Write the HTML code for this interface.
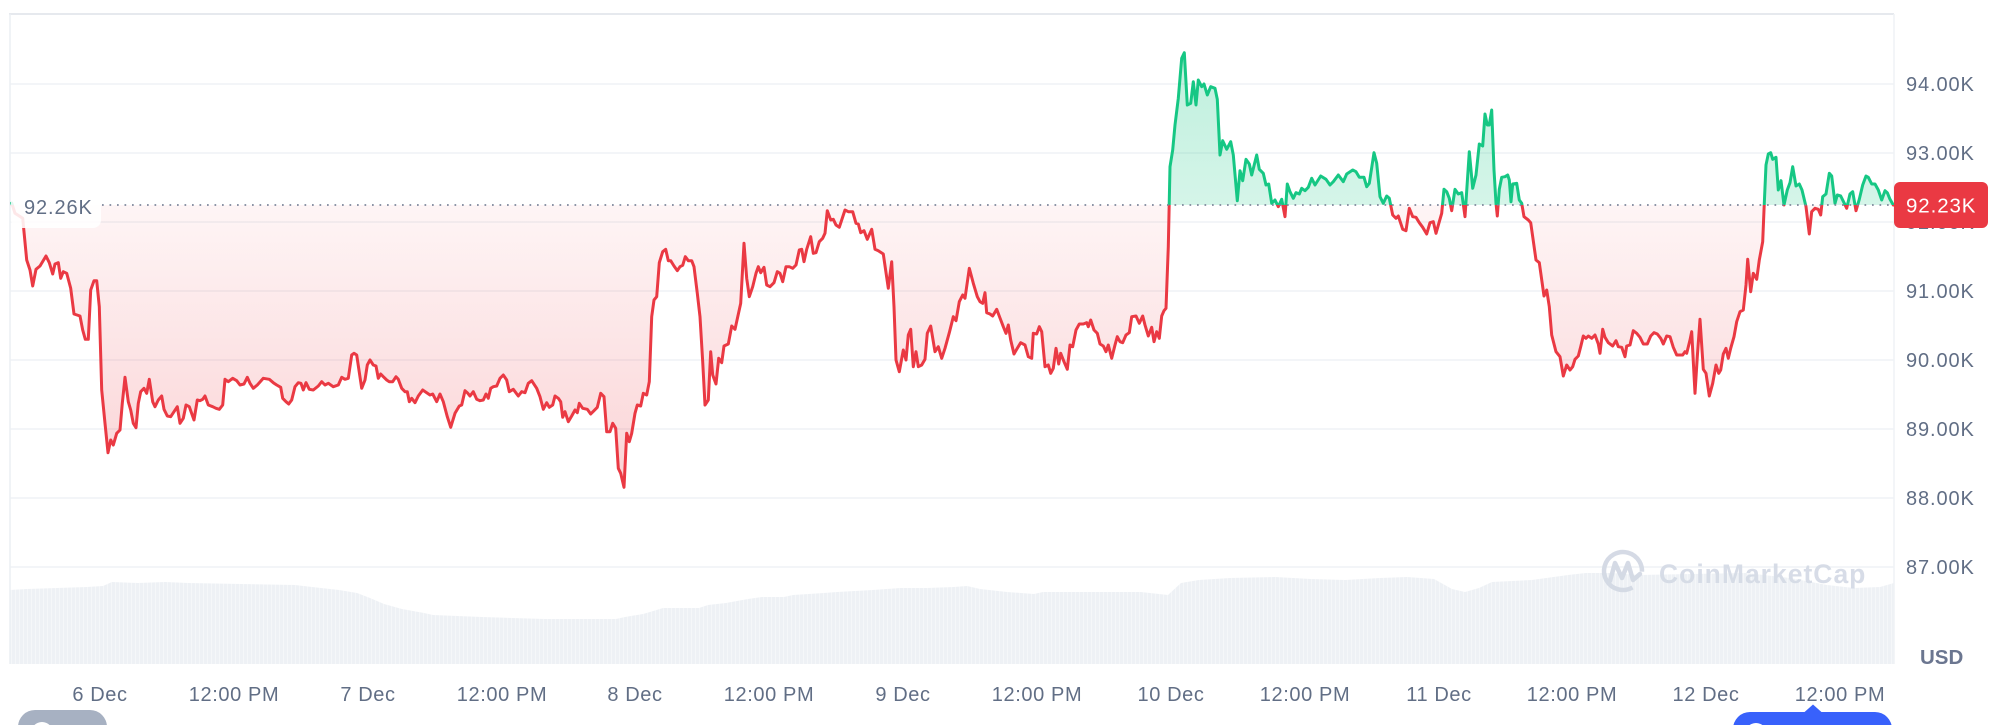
<!DOCTYPE html>
<html>
<head>
<meta charset="utf-8">
<style>
  html,body{margin:0;padding:0;background:#ffffff;}
  body{width:2000px;height:725px;overflow:hidden;}
  svg{display:block;}
  .yl{font-family:"Liberation Sans",sans-serif;font-size:20px;fill:#616e85;letter-spacing:0.9px;}
  .xl{font-family:"Liberation Sans",sans-serif;font-size:20px;fill:#616e85;letter-spacing:0.6px;}
</style>
</head>
<body>
<svg width="2000" height="725" viewBox="0 0 2000 725" xmlns="http://www.w3.org/2000/svg">
  <defs>
    <linearGradient id="gRed" gradientUnits="userSpaceOnUse" x1="0" y1="205" x2="0" y2="490">
      <stop offset="0" stop-color="#ea3943" stop-opacity="0.05"/>
      <stop offset="1" stop-color="#ea3943" stop-opacity="0.22"/>
    </linearGradient>
    <linearGradient id="gGreen" gradientUnits="userSpaceOnUse" x1="0" y1="50" x2="0" y2="205">
      <stop offset="0" stop-color="#16c784" stop-opacity="0.28"/>
      <stop offset="1" stop-color="#16c784" stop-opacity="0.18"/>
    </linearGradient>
    <clipPath id="above"><rect x="0" y="0" width="1894" height="205"/></clipPath>
    <clipPath id="below"><rect x="0" y="205" width="1894" height="520"/></clipPath>
    <pattern id="vstripe" width="4" height="10" patternUnits="userSpaceOnUse">
      <rect x="0" y="0" width="4" height="10" fill="#eef1f5"/>
      <rect x="3" y="0" width="1" height="10" fill="#f5f7f9"/>
    </pattern>
    <path id="ln" d="M11.7,203 L15,213.3 L22.7,218.3 L26.7,260 L30,270 L32.7,286 L36,269.3 L40,266 L46,256 L49.3,262.7 L52.7,274 L55,264 L58.3,262.7 L60.7,278.3 L63.3,271.7 L66.7,273.3 L70.7,288.3 L74,314 L80,316 L82.7,330 L85.3,339.3 L88.3,339.3 L90.7,290 L94,280.7 L96.7,280.7 L99.3,306.7 L101.7,390 L105,423.3 L108,452.7 L110.7,440 L113.3,445 L116.7,433.3 L120,430 L122.3,403.3 L125,377.3 L128.3,401.7 L130.7,410 L133.3,423.3 L136,427.7 L138.3,403.3 L140.7,391.7 L144,388.3 L146.7,393.3 L149.3,379.3 L152.7,401.7 L155,406.7 L158.3,400 L161.7,396 L164,409.3 L167.3,416 L170.7,416.7 L174,411.7 L177.3,406.7 L180,423.3 L183.3,418.3 L186,405 L189.3,406.7 L194,420 L197.3,400 L200,400.7 L202.7,399.3 L205,396 L208.3,405 L212.7,406.7 L216,408.3 L219.3,409.3 L222.7,405 L225,379.3 L228.3,381.7 L232.7,378.3 L236.7,380.7 L240,385 L244,384 L247.3,377.3 L250,383.3 L253.3,388.3 L257.3,385 L263.3,378.3 L269.3,379.3 L273.3,382.7 L276.7,385 L280.7,387.3 L282.7,398.3 L286,401.7 L288.7,404 L291.7,400 L295,386.7 L298.3,382.7 L301,383.3 L303.3,390 L306,382.7 L309.3,389.3 L313.3,390 L318.3,386 L321.7,381.7 L325,385 L328.3,383.3 L333.3,386.7 L338.3,385 L341.7,377.3 L345,379.3 L348.3,378.3 L351.7,355 L354,353.3 L356.7,355 L361.7,388.3 L365,380 L367.3,365 L370,360 L373.3,365 L376,366 L378.3,378.3 L380.7,374 L383.3,376.7 L386.7,380 L389.3,381.7 L392.7,381.7 L396,376.7 L398.3,379.3 L401.7,388.3 L405,391.7 L407.3,391.7 L409.3,401.7 L411.7,398.3 L415,402.7 L418.3,396 L422.7,390 L426.7,392.7 L430,395 L432.7,394 L436.7,401.7 L440,394 L443.3,401.7 L447.3,416.7 L450.7,427.3 L455,413.3 L459.3,406 L461.7,405 L465,390.7 L467.3,392.7 L470,396 L473.3,391.7 L476.7,399.3 L480,400.7 L483.3,400 L486,394 L488.3,398.3 L490.7,388.3 L493.3,386.7 L496.7,386 L500,378.3 L503.3,375 L506.7,380 L509.3,391.7 L513.3,389.3 L518.3,396 L521.7,391.7 L525,392.7 L528.3,383.3 L531.7,380.7 L536.7,388.3 L540,396.7 L543.3,409.3 L546.7,402.7 L549.3,407.3 L552.7,405 L555,396 L558.3,398.3 L560.7,401.7 L562.7,417.3 L565,411.7 L568.3,421.7 L571.7,416 L575,410 L577.3,412.7 L579.3,403.3 L582.7,408.3 L587.3,409.3 L590.7,414 L594,410.7 L597.3,407.3 L600.7,393.3 L604,396.7 L606.7,431.7 L610,431.7 L612.7,423.3 L615.7,428.3 L618.3,468.3 L620.7,473.3 L624,487.3 L626.7,433.3 L629.3,441.7 L631.7,433.3 L635,413.3 L637.3,405 L640.7,406 L643.3,393.3 L646.7,395 L649.3,381.7 L651.7,316.7 L654,300 L656.7,296.7 L659.3,262.7 L662.7,251.7 L665.7,249.3 L668.3,260.7 L670.7,260.7 L674,266 L677.3,270.7 L680,266.7 L682.7,265.3 L685.3,256.7 L688.3,260.7 L691.7,260.7 L694,266.7 L697.3,293.3 L700,316.7 L702.7,361.7 L705,405 L708.3,400 L710.7,351.7 L712.7,375 L716,384 L718.7,358.3 L721.7,362.7 L724,346 L728.3,344 L731.7,326 L735,329.3 L740.7,303.3 L744,243.3 L746.7,278.3 L749.3,296.7 L752.7,286.7 L756,273.3 L758.3,266.7 L760.7,272.7 L764,267.3 L766.7,285 L770,286.7 L774,282.7 L777.3,271.7 L780,273.3 L782.7,281.7 L786,266.7 L789.3,266.7 L792.7,268.3 L796,265 L799.3,250 L801.7,249.3 L804,261.7 L806.7,249.3 L810.7,236.7 L813.3,253.3 L816,252.7 L819.3,241.7 L822.7,238.3 L825,233.3 L827.3,210.7 L830.7,220 L833.3,219.3 L836,225 L839.3,227.3 L841.7,220 L845,210 L848.3,211.7 L852.7,211.7 L856,223.3 L858.3,224 L860.7,232.7 L864,230.7 L867.3,239.3 L871.7,229.3 L875,249.3 L878.3,250.7 L883.3,254 L888.3,288.3 L891.7,261.7 L894,306.7 L896,360 L899.3,371.7 L903.3,350 L906,360 L908.3,335 L910.7,329.3 L913.3,366.7 L916,351.7 L918.3,366.7 L921.7,365 L925,359.3 L927.3,333.3 L930.7,326 L935,351.7 L938.3,346.7 L941.7,358.3 L945,348.3 L949.3,332.7 L953.3,316.7 L956,320.7 L959.3,301.7 L962.7,295 L965,298.3 L969.3,268.3 L973.3,283.3 L977.3,296.7 L980,301.7 L982.7,303.3 L985,292.7 L986.7,312.7 L990,314 L992.7,316 L996.7,309.3 L1000,318 L1003.3,326.7 L1006,333.3 L1008.3,325 L1010.7,340 L1014,354 L1017.3,348.3 L1020.7,342.7 L1025,345 L1028.3,356.7 L1031.7,358.3 L1033.3,333.3 L1036.7,334 L1039.3,326.7 L1041.7,331.7 L1045,366.7 L1048.3,365 L1050.7,373.3 L1053.3,368.3 L1056,348.3 L1058.7,364 L1060.7,353.3 L1064,361.7 L1067.3,369.3 L1070,345 L1072.7,346.7 L1076,330 L1079.3,324 L1083.3,324 L1086.7,322.7 L1088.3,326.7 L1090.7,320 L1094,330 L1097.3,333.3 L1100,344 L1103.3,346 L1106,351.7 L1108.3,345 L1111.7,358.3 L1115,345 L1117.3,336.7 L1120,341.7 L1122.7,342.7 L1126,335 L1129.3,332.7 L1131.7,316.7 L1136,316 L1139.3,323.3 L1142.7,316 L1145,325 L1148.3,336 L1151.7,327.3 L1154,341.7 L1156.7,331.7 L1159.3,338.3 L1161.7,316 L1164,310.7 L1166,308.3 L1168.3,246.7 L1170,166.7 L1172.7,150 L1175,125 L1178.3,98.3 L1181.7,58.3 L1184.3,52.7 L1187.3,105 L1190.7,103.3 L1193.3,81.7 L1196,105 L1198.3,80 L1201.7,86.7 L1204,84 L1207.3,95 L1210.7,86.7 L1215,88.3 L1217.3,99.3 L1220,155 L1222.7,140.7 L1226.7,149.3 L1230.7,141.7 L1233.3,155 L1237.3,200.7 L1240,170.7 L1242.7,180.7 L1246,159.3 L1249.3,164 L1251.7,175 L1256.7,155 L1259.3,169.3 L1263.3,173.3 L1266,185 L1268.7,184 L1271.7,203.3 L1275,200 L1278.3,206.7 L1281.7,199.3 L1285,216.7 L1287.3,184 L1290,191.7 L1293.3,198.3 L1296,192.7 L1299.3,194 L1301.7,188.3 L1305,190.7 L1308.3,187.3 L1311.7,178.3 L1315,185 L1320.7,176 L1326,179.3 L1330,185 L1333.3,181.7 L1338.3,175 L1343.3,181.7 L1346.7,174 L1352.7,170 L1356,171.7 L1359.3,177.3 L1364,177.3 L1366.7,186.7 L1369.3,183.3 L1374,152.7 L1376.7,163.3 L1380,196.7 L1383.3,203.3 L1386.7,196 L1389.3,198.3 L1392.7,215 L1396,218.3 L1398.3,216 L1402.7,229.3 L1406,230.7 L1409.3,208.3 L1412.7,216.7 L1416,217.3 L1419.3,222.7 L1422.7,227.3 L1426.7,234 L1430,222.7 L1433.3,221.7 L1436,233.3 L1439.3,221.7 L1441.7,213.3 L1444,189.3 L1446.7,191.7 L1449.3,198.3 L1451.7,210.7 L1455,189.3 L1458.3,194 L1461.7,192.7 L1465,216.7 L1469.3,151.7 L1472.7,188.3 L1476,175 L1479.3,144 L1482.7,146 L1485,114 L1487.3,125 L1489.3,125 L1491.7,110 L1494,170 L1496,203.3 L1497.3,216 L1499.3,189.3 L1501.7,177.3 L1505,176.7 L1507.7,175 L1509.3,180 L1511,201.7 L1512.7,184 L1516.7,183.3 L1519.3,200 L1521.7,203.3 L1524,216.7 L1528.3,220 L1530.7,222.7 L1532.7,236.7 L1536,260 L1539.3,262.7 L1544,296 L1546.7,290 L1549.3,306.7 L1551.7,335 L1556,351.7 L1560,356.7 L1563.3,376 L1566.7,365 L1570,370 L1572.7,366.7 L1575,359.3 L1578.3,356 L1580.7,346.7 L1583.3,336 L1586,338.3 L1588.3,336 L1591.7,338.3 L1595,335 L1598.3,344 L1600,353.3 L1602.7,329.3 L1605,337.3 L1608.3,342.7 L1612.7,346 L1616,340.7 L1618.3,346.7 L1621.7,347.3 L1625,356.7 L1626.7,346 L1630,345 L1633.3,330.7 L1636.7,333.3 L1640,337.3 L1643.3,344 L1647.3,344 L1650.7,336 L1654,332.7 L1657.3,334 L1660.7,338.3 L1663.3,344 L1666.7,336 L1670,336.7 L1673.3,347.3 L1676.7,355 L1680,355 L1682.7,355 L1685,351.7 L1686.7,353.3 L1690,340 L1691.7,331.7 L1695,393.3 L1697.3,356.7 L1700,319.3 L1703.3,369.3 L1706,373.3 L1709.3,396 L1712.7,383.3 L1716,365 L1718.7,373.3 L1720.7,370 L1723.3,354 L1726,348.3 L1728.3,358.3 L1730.7,348.3 L1734,336.7 L1736.7,321.7 L1740,311.7 L1743.3,310 L1746,285 L1747.7,259.3 L1750.7,291.7 L1753.3,273.3 L1756.7,279.3 L1759.3,260 L1762.7,241.7 L1764,210 L1766,165 L1768.3,154 L1770.7,152.7 L1772.7,159.3 L1776,157.3 L1778.3,190 L1781,180.7 L1784,205 L1787.3,190 L1790,182.7 L1792.7,166.7 L1796,186 L1799.3,184 L1802,190 L1806,206.7 L1809.3,234 L1811.7,211.7 L1815,208.3 L1818.3,209.3 L1820.7,215 L1822.7,196.7 L1826,194 L1829.3,173.3 L1831.7,176 L1835,203.3 L1837.3,195 L1840.7,196 L1844,202.7 L1846.7,208.3 L1850,194 L1852.7,191.7 L1856,210.7 L1859.3,199.3 L1862.7,185 L1866,176 L1868.3,177.3 L1871.7,184 L1875,184 L1878.3,190 L1881.7,200 L1885,190.7 L1887.3,192.7 L1890,199.3 L1893.3,205"/>
    <path id="area" d="M11.7,205 L15,213.3 L22.7,218.3 L26.7,260 L30,270 L32.7,286 L36,269.3 L40,266 L46,256 L49.3,262.7 L52.7,274 L55,264 L58.3,262.7 L60.7,278.3 L63.3,271.7 L66.7,273.3 L70.7,288.3 L74,314 L80,316 L82.7,330 L85.3,339.3 L88.3,339.3 L90.7,290 L94,280.7 L96.7,280.7 L99.3,306.7 L101.7,390 L105,423.3 L108,452.7 L110.7,440 L113.3,445 L116.7,433.3 L120,430 L122.3,403.3 L125,377.3 L128.3,401.7 L130.7,410 L133.3,423.3 L136,427.7 L138.3,403.3 L140.7,391.7 L144,388.3 L146.7,393.3 L149.3,379.3 L152.7,401.7 L155,406.7 L158.3,400 L161.7,396 L164,409.3 L167.3,416 L170.7,416.7 L174,411.7 L177.3,406.7 L180,423.3 L183.3,418.3 L186,405 L189.3,406.7 L194,420 L197.3,400 L200,400.7 L202.7,399.3 L205,396 L208.3,405 L212.7,406.7 L216,408.3 L219.3,409.3 L222.7,405 L225,379.3 L228.3,381.7 L232.7,378.3 L236.7,380.7 L240,385 L244,384 L247.3,377.3 L250,383.3 L253.3,388.3 L257.3,385 L263.3,378.3 L269.3,379.3 L273.3,382.7 L276.7,385 L280.7,387.3 L282.7,398.3 L286,401.7 L288.7,404 L291.7,400 L295,386.7 L298.3,382.7 L301,383.3 L303.3,390 L306,382.7 L309.3,389.3 L313.3,390 L318.3,386 L321.7,381.7 L325,385 L328.3,383.3 L333.3,386.7 L338.3,385 L341.7,377.3 L345,379.3 L348.3,378.3 L351.7,355 L354,353.3 L356.7,355 L361.7,388.3 L365,380 L367.3,365 L370,360 L373.3,365 L376,366 L378.3,378.3 L380.7,374 L383.3,376.7 L386.7,380 L389.3,381.7 L392.7,381.7 L396,376.7 L398.3,379.3 L401.7,388.3 L405,391.7 L407.3,391.7 L409.3,401.7 L411.7,398.3 L415,402.7 L418.3,396 L422.7,390 L426.7,392.7 L430,395 L432.7,394 L436.7,401.7 L440,394 L443.3,401.7 L447.3,416.7 L450.7,427.3 L455,413.3 L459.3,406 L461.7,405 L465,390.7 L467.3,392.7 L470,396 L473.3,391.7 L476.7,399.3 L480,400.7 L483.3,400 L486,394 L488.3,398.3 L490.7,388.3 L493.3,386.7 L496.7,386 L500,378.3 L503.3,375 L506.7,380 L509.3,391.7 L513.3,389.3 L518.3,396 L521.7,391.7 L525,392.7 L528.3,383.3 L531.7,380.7 L536.7,388.3 L540,396.7 L543.3,409.3 L546.7,402.7 L549.3,407.3 L552.7,405 L555,396 L558.3,398.3 L560.7,401.7 L562.7,417.3 L565,411.7 L568.3,421.7 L571.7,416 L575,410 L577.3,412.7 L579.3,403.3 L582.7,408.3 L587.3,409.3 L590.7,414 L594,410.7 L597.3,407.3 L600.7,393.3 L604,396.7 L606.7,431.7 L610,431.7 L612.7,423.3 L615.7,428.3 L618.3,468.3 L620.7,473.3 L624,487.3 L626.7,433.3 L629.3,441.7 L631.7,433.3 L635,413.3 L637.3,405 L640.7,406 L643.3,393.3 L646.7,395 L649.3,381.7 L651.7,316.7 L654,300 L656.7,296.7 L659.3,262.7 L662.7,251.7 L665.7,249.3 L668.3,260.7 L670.7,260.7 L674,266 L677.3,270.7 L680,266.7 L682.7,265.3 L685.3,256.7 L688.3,260.7 L691.7,260.7 L694,266.7 L697.3,293.3 L700,316.7 L702.7,361.7 L705,405 L708.3,400 L710.7,351.7 L712.7,375 L716,384 L718.7,358.3 L721.7,362.7 L724,346 L728.3,344 L731.7,326 L735,329.3 L740.7,303.3 L744,243.3 L746.7,278.3 L749.3,296.7 L752.7,286.7 L756,273.3 L758.3,266.7 L760.7,272.7 L764,267.3 L766.7,285 L770,286.7 L774,282.7 L777.3,271.7 L780,273.3 L782.7,281.7 L786,266.7 L789.3,266.7 L792.7,268.3 L796,265 L799.3,250 L801.7,249.3 L804,261.7 L806.7,249.3 L810.7,236.7 L813.3,253.3 L816,252.7 L819.3,241.7 L822.7,238.3 L825,233.3 L827.3,210.7 L830.7,220 L833.3,219.3 L836,225 L839.3,227.3 L841.7,220 L845,210 L848.3,211.7 L852.7,211.7 L856,223.3 L858.3,224 L860.7,232.7 L864,230.7 L867.3,239.3 L871.7,229.3 L875,249.3 L878.3,250.7 L883.3,254 L888.3,288.3 L891.7,261.7 L894,306.7 L896,360 L899.3,371.7 L903.3,350 L906,360 L908.3,335 L910.7,329.3 L913.3,366.7 L916,351.7 L918.3,366.7 L921.7,365 L925,359.3 L927.3,333.3 L930.7,326 L935,351.7 L938.3,346.7 L941.7,358.3 L945,348.3 L949.3,332.7 L953.3,316.7 L956,320.7 L959.3,301.7 L962.7,295 L965,298.3 L969.3,268.3 L973.3,283.3 L977.3,296.7 L980,301.7 L982.7,303.3 L985,292.7 L986.7,312.7 L990,314 L992.7,316 L996.7,309.3 L1000,318 L1003.3,326.7 L1006,333.3 L1008.3,325 L1010.7,340 L1014,354 L1017.3,348.3 L1020.7,342.7 L1025,345 L1028.3,356.7 L1031.7,358.3 L1033.3,333.3 L1036.7,334 L1039.3,326.7 L1041.7,331.7 L1045,366.7 L1048.3,365 L1050.7,373.3 L1053.3,368.3 L1056,348.3 L1058.7,364 L1060.7,353.3 L1064,361.7 L1067.3,369.3 L1070,345 L1072.7,346.7 L1076,330 L1079.3,324 L1083.3,324 L1086.7,322.7 L1088.3,326.7 L1090.7,320 L1094,330 L1097.3,333.3 L1100,344 L1103.3,346 L1106,351.7 L1108.3,345 L1111.7,358.3 L1115,345 L1117.3,336.7 L1120,341.7 L1122.7,342.7 L1126,335 L1129.3,332.7 L1131.7,316.7 L1136,316 L1139.3,323.3 L1142.7,316 L1145,325 L1148.3,336 L1151.7,327.3 L1154,341.7 L1156.7,331.7 L1159.3,338.3 L1161.7,316 L1164,310.7 L1166,308.3 L1168.3,246.7 L1170,166.7 L1172.7,150 L1175,125 L1178.3,98.3 L1181.7,58.3 L1184.3,52.7 L1187.3,105 L1190.7,103.3 L1193.3,81.7 L1196,105 L1198.3,80 L1201.7,86.7 L1204,84 L1207.3,95 L1210.7,86.7 L1215,88.3 L1217.3,99.3 L1220,155 L1222.7,140.7 L1226.7,149.3 L1230.7,141.7 L1233.3,155 L1237.3,200.7 L1240,170.7 L1242.7,180.7 L1246,159.3 L1249.3,164 L1251.7,175 L1256.7,155 L1259.3,169.3 L1263.3,173.3 L1266,185 L1268.7,184 L1271.7,203.3 L1275,200 L1278.3,206.7 L1281.7,199.3 L1285,216.7 L1287.3,184 L1290,191.7 L1293.3,198.3 L1296,192.7 L1299.3,194 L1301.7,188.3 L1305,190.7 L1308.3,187.3 L1311.7,178.3 L1315,185 L1320.7,176 L1326,179.3 L1330,185 L1333.3,181.7 L1338.3,175 L1343.3,181.7 L1346.7,174 L1352.7,170 L1356,171.7 L1359.3,177.3 L1364,177.3 L1366.7,186.7 L1369.3,183.3 L1374,152.7 L1376.7,163.3 L1380,196.7 L1383.3,203.3 L1386.7,196 L1389.3,198.3 L1392.7,215 L1396,218.3 L1398.3,216 L1402.7,229.3 L1406,230.7 L1409.3,208.3 L1412.7,216.7 L1416,217.3 L1419.3,222.7 L1422.7,227.3 L1426.7,234 L1430,222.7 L1433.3,221.7 L1436,233.3 L1439.3,221.7 L1441.7,213.3 L1444,189.3 L1446.7,191.7 L1449.3,198.3 L1451.7,210.7 L1455,189.3 L1458.3,194 L1461.7,192.7 L1465,216.7 L1469.3,151.7 L1472.7,188.3 L1476,175 L1479.3,144 L1482.7,146 L1485,114 L1487.3,125 L1489.3,125 L1491.7,110 L1494,170 L1496,203.3 L1497.3,216 L1499.3,189.3 L1501.7,177.3 L1505,176.7 L1507.7,175 L1509.3,180 L1511,201.7 L1512.7,184 L1516.7,183.3 L1519.3,200 L1521.7,203.3 L1524,216.7 L1528.3,220 L1530.7,222.7 L1532.7,236.7 L1536,260 L1539.3,262.7 L1544,296 L1546.7,290 L1549.3,306.7 L1551.7,335 L1556,351.7 L1560,356.7 L1563.3,376 L1566.7,365 L1570,370 L1572.7,366.7 L1575,359.3 L1578.3,356 L1580.7,346.7 L1583.3,336 L1586,338.3 L1588.3,336 L1591.7,338.3 L1595,335 L1598.3,344 L1600,353.3 L1602.7,329.3 L1605,337.3 L1608.3,342.7 L1612.7,346 L1616,340.7 L1618.3,346.7 L1621.7,347.3 L1625,356.7 L1626.7,346 L1630,345 L1633.3,330.7 L1636.7,333.3 L1640,337.3 L1643.3,344 L1647.3,344 L1650.7,336 L1654,332.7 L1657.3,334 L1660.7,338.3 L1663.3,344 L1666.7,336 L1670,336.7 L1673.3,347.3 L1676.7,355 L1680,355 L1682.7,355 L1685,351.7 L1686.7,353.3 L1690,340 L1691.7,331.7 L1695,393.3 L1697.3,356.7 L1700,319.3 L1703.3,369.3 L1706,373.3 L1709.3,396 L1712.7,383.3 L1716,365 L1718.7,373.3 L1720.7,370 L1723.3,354 L1726,348.3 L1728.3,358.3 L1730.7,348.3 L1734,336.7 L1736.7,321.7 L1740,311.7 L1743.3,310 L1746,285 L1747.7,259.3 L1750.7,291.7 L1753.3,273.3 L1756.7,279.3 L1759.3,260 L1762.7,241.7 L1764,210 L1766,165 L1768.3,154 L1770.7,152.7 L1772.7,159.3 L1776,157.3 L1778.3,190 L1781,180.7 L1784,205 L1787.3,190 L1790,182.7 L1792.7,166.7 L1796,186 L1799.3,184 L1802,190 L1806,206.7 L1809.3,234 L1811.7,211.7 L1815,208.3 L1818.3,209.3 L1820.7,215 L1822.7,196.7 L1826,194 L1829.3,173.3 L1831.7,176 L1835,203.3 L1837.3,195 L1840.7,196 L1844,202.7 L1846.7,208.3 L1850,194 L1852.7,191.7 L1856,210.7 L1859.3,199.3 L1862.7,185 L1866,176 L1868.3,177.3 L1871.7,184 L1875,184 L1878.3,190 L1881.7,200 L1885,190.7 L1887.3,192.7 L1890,199.3 L1893.3,205 L11.7,205 Z"/>
  </defs>

  <!-- volume -->
  <path fill="url(#vstripe)" d="M10,664 L10,590 L27,589 L87,587 L103,586 L112,582 L138,583 L165,582 L188,583 L241,584 L295,585 L312,587 L339,590 L357,593 L370,598 L384,604 L402,609 L424,613 L433,615 L482,617 L545,619 L616,619 L625,617 L643,614 L650,612 L663,608 L699,608 L708,605 L726,603 L748,599 L762,597 L784,597 L793,595 L824,593 L837,592 L873,590 L900,588 L927,588 L954,587 L967,586 L980,589 L1007,592 L1034,594 L1043,592 L1114,592 L1141,592 L1168,595 L1181,583 L1199,580 L1230,578 L1275,577 L1311,579 L1345,580 L1380,578 L1407,577 L1434,579 L1452,589 L1465,592 L1479,588 L1492,582 L1532,580 L1568,575 L1586,573 L1612,573 L1639,575 L1746,573 L1790,578 L1827,585 L1854,588 L1880,587 L1894,583 L1894,664 Z"/>

  <!-- gridlines -->
  <g stroke="#eff2f5" stroke-width="1.5">
    <line x1="10" y1="84" x2="1894" y2="84"/>
    <line x1="10" y1="153" x2="1894" y2="153"/>
    <line x1="10" y1="222" x2="1894" y2="222"/>
    <line x1="10" y1="291" x2="1894" y2="291"/>
    <line x1="10" y1="360" x2="1894" y2="360"/>
    <line x1="10" y1="429" x2="1894" y2="429"/>
    <line x1="10" y1="498" x2="1894" y2="498"/>
    <line x1="10" y1="567" x2="1894" y2="567"/>
  </g>
  <!-- frame -->
  <line x1="9" y1="14" x2="1894" y2="14" stroke="#e6e9ee" stroke-width="2"/>
  <line x1="10" y1="14" x2="10" y2="664" stroke="#eceff3" stroke-width="1.5"/>
  <line x1="1894" y1="14" x2="1894" y2="664" stroke="#eff2f5" stroke-width="1.5"/>

  <!-- fills -->
  <use href="#area" fill="url(#gRed)" clip-path="url(#below)"/>
  <use href="#area" fill="url(#gGreen)" clip-path="url(#above)"/>

  <!-- line strokes -->
  <use href="#ln" fill="none" stroke="#ea3943" stroke-width="3" stroke-linejoin="round" stroke-linecap="round" clip-path="url(#below)"/>
  <use href="#ln" fill="none" stroke="#16c784" stroke-width="3" stroke-linejoin="round" stroke-linecap="round" clip-path="url(#above)"/>

  <!-- dotted reference line -->
  <line x1="102" y1="205" x2="1894" y2="205" stroke="#7d879b" stroke-width="1.7" stroke-dasharray="1.7 5.8"/>

  <!-- left reference label -->
  <rect x="11" y="185" width="90" height="43" rx="8" fill="#ffffff" fill-opacity="0.88"/>
  <text class="yl" x="24" y="214">92.26K</text>

  <!-- watermark -->
  <g opacity="0.95">
    <circle cx="1623" cy="571" r="19" fill="none" stroke="#d3d9e4" stroke-width="4.5" stroke-dasharray="100 20" transform="rotate(60 1623 571)"/>
    <path d="M1610,581 L1615,563 L1622,578 L1628,563 L1633,580 L1640,574" fill="none" stroke="#d3d9e4" stroke-width="4.5" stroke-linejoin="round" stroke-linecap="round"/>
    <text x="1659" y="583" font-family="Liberation Sans, sans-serif" font-weight="bold" font-size="26.5px" letter-spacing="1px" fill="#d5dbe6">CoinMarketCap</text>
  </g>

  <!-- y axis labels -->
  <text class="yl" x="1906" y="91">94.00K</text>
  <text class="yl" x="1906" y="160">93.00K</text>
  <text class="yl" x="1906" y="229">92.00K</text>
  <text class="yl" x="1906" y="298">91.00K</text>
  <text class="yl" x="1906" y="367">90.00K</text>
  <text class="yl" x="1906" y="436">89.00K</text>
  <text class="yl" x="1906" y="505">88.00K</text>
  <text class="yl" x="1906" y="574">87.00K</text>

  <!-- current price badge -->
  <rect x="1894" y="182" width="94" height="46" rx="6" fill="#ea3943"/>
  <text x="1906" y="212.5" font-family="Liberation Sans, sans-serif" font-size="20.5px" letter-spacing="0.9px" fill="#ffffff">92.23K</text>

  <!-- USD -->
  <text x="1920" y="664" font-family="Liberation Sans, sans-serif" font-weight="bold" font-size="20.5px" fill="#6b7690">USD</text>

  <!-- x axis labels -->
  <g text-anchor="middle">
    <text class="xl" x="100" y="701">6 Dec</text>
    <text class="xl" x="234" y="701">12:00 PM</text>
    <text class="xl" x="368" y="701">7 Dec</text>
    <text class="xl" x="502" y="701">12:00 PM</text>
    <text class="xl" x="635" y="701">8 Dec</text>
    <text class="xl" x="769" y="701">12:00 PM</text>
    <text class="xl" x="903" y="701">9 Dec</text>
    <text class="xl" x="1037" y="701">12:00 PM</text>
    <text class="xl" x="1171" y="701">10 Dec</text>
    <text class="xl" x="1305" y="701">12:00 PM</text>
    <text class="xl" x="1439" y="701">11 Dec</text>
    <text class="xl" x="1572" y="701">12:00 PM</text>
    <text class="xl" x="1706" y="701">12 Dec</text>
    <text class="xl" x="1840" y="701">12:00 PM</text>
  </g>

  <!-- bottom buttons -->
  <rect x="18" y="710" width="89" height="40" rx="17" fill="#a7b1c2"/>
  <circle cx="42" cy="733" r="11" fill="#ffffff"/>
  <path d="M1804,712.5 L1813,704.5 L1822,712.5 Z" fill="#3861fb"/>
  <rect x="1733" y="712" width="159" height="40" rx="17" fill="#3861fb"/>
  <circle cx="1756" cy="734" r="11" fill="#ffffff"/>
</svg>
</body>
</html>
